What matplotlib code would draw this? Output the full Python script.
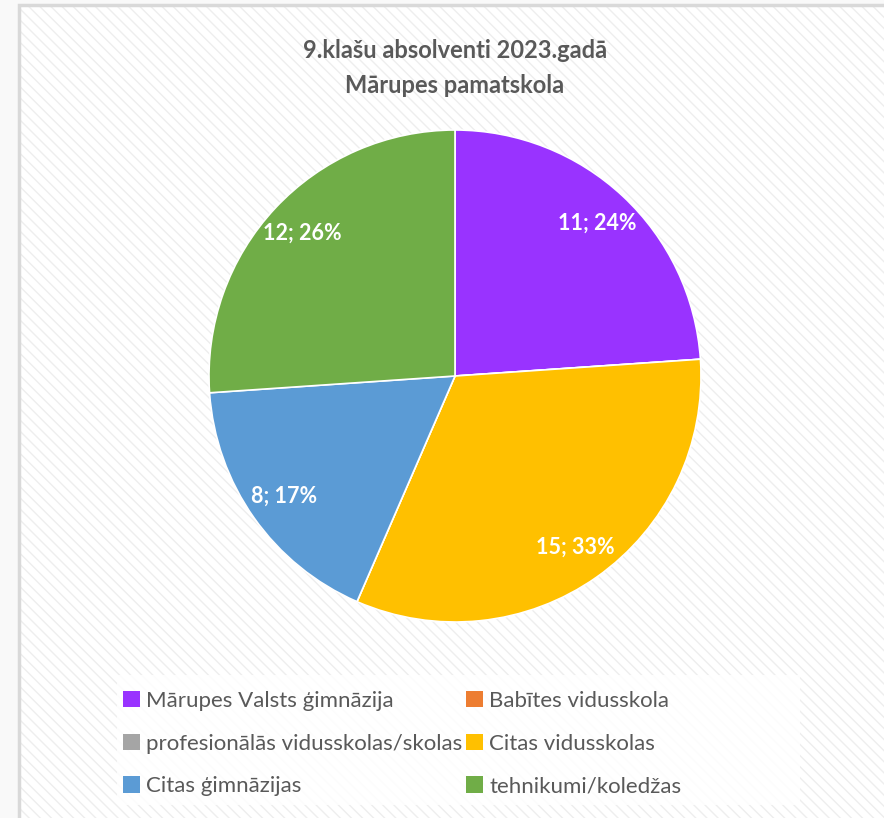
import matplotlib
matplotlib.use("Agg")
import matplotlib.pyplot as plt
from matplotlib.patches import Rectangle, Patch

# data
categories = ["Mārupes Valsts ģimnāzija", "Babītes vidusskola",
              "Citas vidusskolas", "profesionālās vidusskolas/skolas",
              "Citas ģimnāzijas", "tehnikumi/koledžas"]
values = [11, 0, 15, 0, 8, 12]
colors = ["#9933FF", "#ED7D31", "#FFC000", "#A5A5A5", "#5B9BD5", "#70AD47"]
legend_order = [0, 3, 4, 1, 2, 5]   # column-first order so rows read like the original
title = "9.klašu absolventi 2023.gadā\nMārupes pamatskola"

plt.rcParams['font.family'] = ['Lato', 'DejaVu Sans']
plt.rcParams['hatch.linewidth'] = 1.0

W, H = 884, 818
fig = plt.figure(figsize=(W / 100, H / 100), dpi=100)
fig.patch.set_facecolor("#f9f9f9")

# chart area with light diagonal hatch
bg = Rectangle((19 / W, 0), 1, 1 - 5 / H, transform=fig.transFigure,
               facecolor="white", edgecolor="#eeeeee", hatch="\\\\\\", lw=0,
               zorder=-3)
fig.patches.append(bg)
border = Rectangle((19 / W, -0.01), 1, 1.01 - 5 / H, transform=fig.transFigure,
                   facecolor="none", edgecolor="#d9d9d9", lw=2.5, zorder=-2)
fig.patches.append(border)

# legend box
fig.patches.append(Rectangle((117 / W, (H - 805) / H), 683 / W, 130 / H,
                             transform=fig.transFigure, facecolor="white",
                             edgecolor="none", alpha=0.85, zorder=-1))

cx, cy, r = 455, 376, 246
ax = fig.add_axes([(cx - r) / W, (H - cy - r) / H, 2 * r / W, 2 * r / H])
ax.set_zorder(2)
total = sum(values)


def fmt(pct):
    v = int(round(pct * total / 100))
    return f"{v}; {pct:.0f}%" if v > 0 else ""


wedges, _, autotexts = ax.pie(values, colors=colors, startangle=90,
                              counterclock=False, autopct=fmt,
                              pctdistance=0.85, radius=1,
                              wedgeprops=dict(edgecolor="white", linewidth=1.2))
for t in autotexts:
    t.set_color("white")
    t.set_fontweight("bold")
    t.set_fontsize(15.5)
ax.set_xlim(-1, 1)
ax.set_ylim(-1, 1)

fig.text(455 / W, 1 - 68 / H, title, ha="center", va="center",
         fontsize=17, fontweight="bold", color="#595959", linespacing=1.6)

handles = [Patch(facecolor=colors[i], label=categories[i]) for i in legend_order]
fig.legend(handles=handles, ncol=2, loc="upper left",
           bbox_to_anchor=(103 / W, 1 - 671 / H), frameon=False,
           fontsize=16, labelcolor="#595959", handlelength=0.75,
           handleheight=0.75, handletextpad=0.3, columnspacing=0.15,
           labelspacing=1.02)

fig.savefig("out.png", dpi=100)
